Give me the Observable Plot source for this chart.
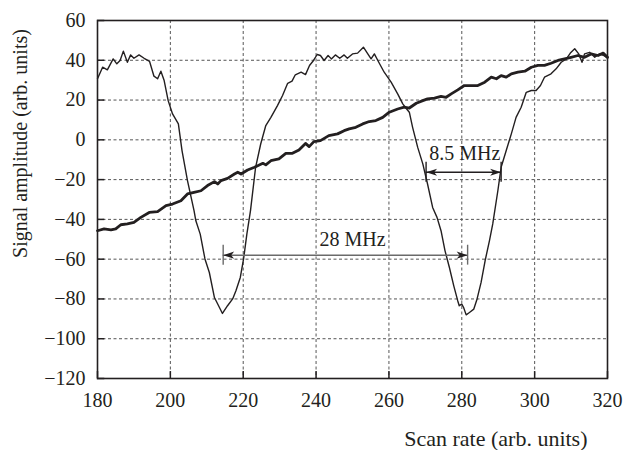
<!DOCTYPE html>
<html><head><meta charset="utf-8">
<script src="https://cdn.jsdelivr.net/npm/d3@7"></script>
<script src="https://cdn.jsdelivr.net/npm/@observablehq/plot@0.6"></script>
<style>body{margin:0;background:#fff} #chart svg{display:block}</style>
</head><body><div id="chart"></div>
<script>
const xTicks = [180, 200, 220, 240, 260, 280, 300, 320];
const yTicks = [-120, -100, -80, -60, -40, -20, 0, 20, 40, 60];
const xLabel = "Scan rate (arb. units)";
const yLabel = "Signal amplitude (arb. units)";

// thin signal trace with two dips: [scan rate, amplitude]
const signal = [
  [180,30.7],[181.4,36.5],[182.7,35.2],[184.3,40.7],[185.3,38.2],[186.2,39.9],[187.1,44.6],[188.2,39],
  [189.1,42.7],[190,41],[191.4,42.7],[192.8,41],[194.3,39.4],[195.5,32],[196.5,30.7],[197.4,34.5],
  [198.3,29.8],[199.4,19.7],[200.6,13],[202.2,8],[203.2,-5.4],[204.7,-20.5],[206.5,-35.6],[207,-40.7],
  [208.2,-47.4],[209.5,-59.9],[210.7,-66.7],[212.1,-79.3],[214.3,-87.3],[215.7,-83.4],[217.1,-80],
  [218,-75.9],[219.2,-69.2],[220.1,-59.9],[221,-47.4],[222,-35.6],[223.4,-13.8],[224.8,-2.1],[226.2,7.2],
  [227.6,11.3],[229.4,17.2],[230.8,22.3],[232.2,28.4],[233.4,29.5],[234.3,32.7],[235.9,34],[237.1,32.8],
  [238.2,37.4],[239.3,39.9],[240.3,42.9],[241.2,42.4],[242.2,39.9],[243.3,42.4],[244.2,40.7],[245.3,42.7],
  [246.5,41],[247.7,42.7],[248.6,41],[250,43.2],[251.4,43.6],[253,46.6],[254.2,43.2],[255.1,40.7],
  [256,43.2],[257.1,39.4],[258.7,34],[260.6,29],[262.4,23.1],[263.8,18.1],[264.7,15.9],[265.6,13.9],
  [266.5,6.3],[267.9,-3.8],[269.3,-12.1],[270.6,-22.2],[272,-34],[273.2,-39],[274.3,-45.7],[275.4,-55.8],
  [276.6,-64.2],[277.8,-73.4],[278.9,-81],[279.3,-83.4],[280,-82.6],[280.5,-84.3],[281.2,-88],[282.1,-86.8],
  [283.3,-85.1],[284.2,-80],[285.3,-71.7],[286.4,-60.8],[287.6,-50.7],[288.5,-42.3],[289.9,-25.6],
  [290.8,-13.8],[292.2,-5.4],[293.6,3],[294.9,11.3],[296.3,16.4],[297.7,23.9],[299.1,24.8],[300.4,24.8],
  [301.6,27.3],[302.7,31.5],[304.5,33.2],[305.9,35.7],[307.3,39],[308.7,40.7],[309.8,43.6],[311,45.8],
  [312.1,43.2],[313,39],[313.7,43.2],[315.1,44],[316.5,41.5],[317.8,43.2],[319,42.4],[320,41]
];

// thick, nearly linear ramp trace: [scan rate, amplitude]
const ramp = [
  [180,-45.7],[181.8,-44.8],[183.7,-45.3],[185,-44.8],[186.4,-42.7],[188.2,-42.3],[190,-41.5],[191.9,-39],
  [194.2,-36.5],[196.5,-36.1],[198.8,-33.1],[200.6,-32.3],[202.9,-30.6],[204.7,-27.2],[206.5,-26.4],
  [208.4,-25.6],[210.2,-23],[212.1,-21],[213,-22.2],[213.9,-20.5],[215.7,-19.4],[217.6,-17.2],[218.5,-16.3],
  [219.4,-17.2],[221.2,-15.2],[223.1,-13.8],[225.4,-11.8],[226.2,-12.6],[227.6,-10.5],[229.8,-9.6],
  [231.7,-6.8],[233.5,-6.8],[235.3,-5.1],[237.1,-1.8],[238.1,-3.4],[239.4,-0.9],[241.2,-0.4],[243.5,2.1],
  [245.9,3],[247.7,4.6],[249.1,5.5],[250.9,6.3],[252.8,8],[254.6,9.2],[256.4,9.7],[258.3,11.3],[260.1,13.9],
  [262.4,15.5],[264.2,16.4],[265.6,16],[267.5,18.4],[269.3,19.7],[270.6,20.6],[272.5,21],[274.3,21.8],
  [275.7,21.4],[277.1,23.1],[278.9,25.1],[280.7,27.3],[282.6,27.3],[284.4,27.3],[286.3,29],[288.1,31.5],
  [289.5,30.7],[290.8,32.3],[292.2,31.5],[293.6,33.2],[295.4,34],[297.3,34.5],[299.1,36.5],[300.9,37.4],
  [302.7,37.4],[304.5,38.5],[306.4,39.9],[308.2,40.7],[310,41.5],[311.9,42.4],[313.7,41.5],[315.5,43.2],
  [317.4,42.4],[318.8,43.6],[320,41.5]
];

// width annotations
const spanLabels = ["28 MHz", "8.5 MHz"];
const spanStart = [214.5, 270.2];
const spanEnd = [281.6, 290.8];
const spanLevel = [-58, -16.3];
const labelX = [250, 280.8];
const labelY = [-53.2, -10];

const spanColors = ["#6a6a6a", "#231f20"];
const spans = spanLabels.map((label, i) => ({
  label, x1: spanStart[i], x2: spanEnd[i], y: spanLevel[i], lx: labelX[i], ly: labelY[i], c: spanColors[i]
}));
const heads = spans.flatMap(s => [{x: s.x1, y: s.y, rot: 180, c: s.c}, {x: s.x2, y: s.y, rot: 0, c: s.c}]);

const arrowHead = {
  draw(ctx) {
    ctx.moveTo(0, 0); ctx.lineTo(-11, -3.6); ctx.lineTo(-8, 0); ctx.lineTo(-11, 3.6); ctx.closePath();
  }
};
const fmt = d => (d < 0 ? "\u2212" + Math.abs(d) : String(d));
const ink = "#231f20";

const chart = Plot.plot({
  width: 623, height: 450,
  marginLeft: 97, marginRight: 16, marginTop: 20, marginBottom: 72,
  x: {domain: [180, 320]},
  y: {domain: [-120, 60]},
  style: {fontFamily: "'Liberation Serif', 'Times New Roman', serif", fontSize: "20px", color: ink, background: "#fff"},
  marks: [
    Plot.gridX(xTicks, {stroke: "#555", strokeOpacity: 1, strokeWidth: 1, strokeDasharray: "3,2.5"}),
    Plot.gridY(yTicks, {stroke: "#555", strokeOpacity: 1, strokeWidth: 1, strokeDasharray: "3,2.5"}),
    Plot.ruleX(xTicks, {x: d => d, y1: -120, y2: -116.5, stroke: ink, strokeWidth: 1.5}),
    Plot.ruleY(yTicks, {y: d => d, x1: 180, x2: 182, stroke: ink, strokeWidth: 1.5}),
    Plot.axisX(xTicks, {tickSize: 0, tickPadding: 14, label: null, tickFormat: fmt, fontSize: 20}),
    Plot.axisY(yTicks, {tickSize: 0, tickPadding: 12, label: null, tickFormat: fmt, fontSize: 20}),
    Plot.line(ramp, {x: d => d[0], y: d => d[1], stroke: ink, strokeWidth: 2.8, strokeLinejoin: "round"}),
    Plot.line(signal, {x: d => d[0], y: d => d[1], stroke: ink, strokeWidth: 1.4, strokeLinejoin: "round"}),
    Plot.ruleY(spans, {y: "y", x1: "x1", x2: "x2", stroke: "c", strokeWidth: 1.4}),
    Plot.ruleX(spans, {x: "x1", y1: d => d.y - 5, y2: d => d.y + 5, stroke: "c", strokeWidth: 1.4}),
    Plot.ruleX(spans, {x: "x2", y1: d => d.y - 5, y2: d => d.y + 5, stroke: "c", strokeWidth: 1.4}),
    Plot.dot(heads, {x: "x", y: "y", symbol: arrowHead, rotate: "rot", fill: ink, stroke: "none", r: 4}),
    Plot.text(spans, {x: "lx", y: "ly", text: "label", lineAnchor: "bottom", fontSize: 20, fill: ink}),
    Plot.text([xLabel], {frameAnchor: "bottom-right", text: d => d, textAnchor: "end", lineAnchor: "bottom", dx: -20, dy: 67, fontSize: 22, fill: ink}),
    Plot.text([yLabel], {frameAnchor: "left", text: d => d, rotate: -90, textAnchor: "middle", lineAnchor: "middle", dx: -77, dy: -56, fontSize: 20, fill: ink}),
    Plot.frame({stroke: ink, strokeWidth: 1.6})
  ]
});
document.getElementById("chart").append(chart);
</script>
</body></html>
